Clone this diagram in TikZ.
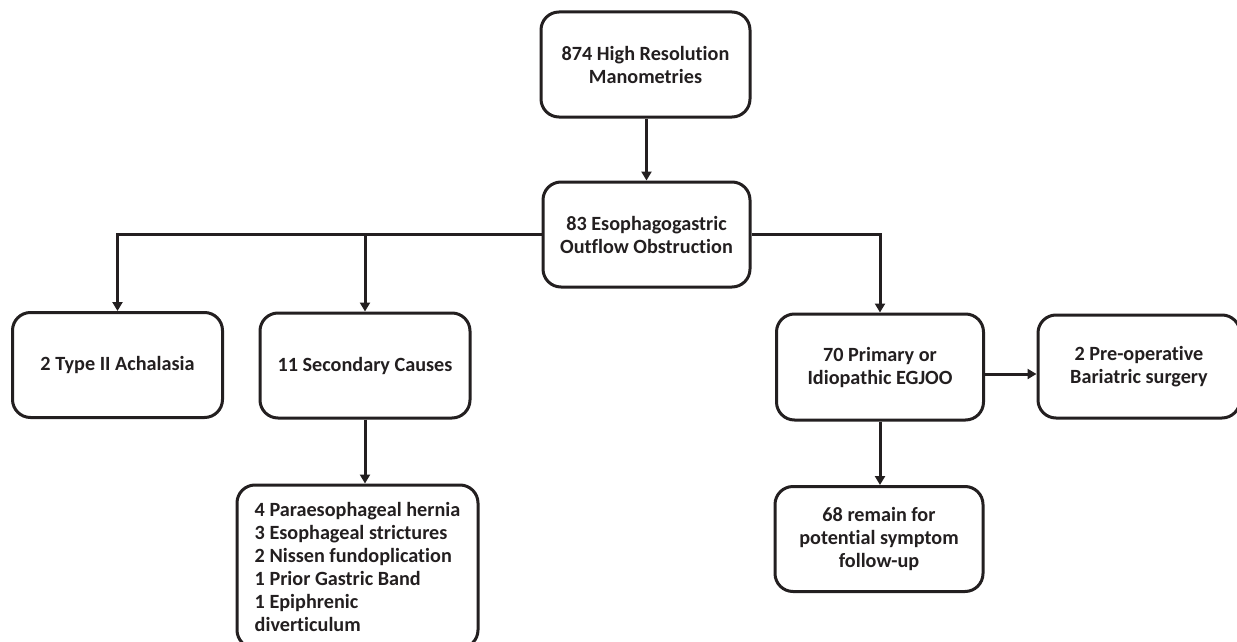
\documentclass[tikz,border=0pt]{standalone}
\usepackage{fontspec}
\setmainfont{Carlito}[RawFeature={-liga}]
\usetikzlibrary{arrows.meta}
\definecolor{ink}{HTML}{231F20}
\begin{document}
\begin{tikzpicture}[x=1pt,y=-1pt,
  box/.style={draw=ink, line width=3pt, rounded corners=18pt, align=center,
    text=ink, font=\fontsize{20.2}{23}\selectfont\bfseries, inner sep=0pt},
  arr/.style={draw=ink, line width=3pt, -{Triangle[length=9pt,width=10pt]}},
  ln/.style={draw=ink, line width=3pt}]
\clip (0,0) rectangle (1237,642);
\fill[white] (0,0) rectangle (1237,642);
\node[box, minimum width=209pt, minimum height=105pt] (top) at (645.5,64.5) {874 High Resolution\\Manometries};
\node[box, minimum width=207pt, minimum height=105pt] (ego) at (646.5,234.5) {83 Esophagogastric\\Outflow Obstruction};
\node[box, minimum width=210pt, minimum height=105pt] (typ) at (117.5,365) {2 Type II Achalasia};
\node[box, minimum width=210pt, minimum height=105pt] (sec) at (365,365.5) {11 Secondary Causes};
\node[box, align=left, minimum width=241pt, minimum height=163pt] (det) at (357.5,566.5) {4 Paraesophageal hernia\\3 Esophageal strictures\\2 Nissen fundoplication\\1 Prior Gastric Band\\1 Epiphrenic\\diverticulum};
\node[box, minimum width=207pt, minimum height=106pt] (pri) at (880,367) {70 Primary or\\Idiopathic EGJOO};
\node[box, minimum width=202pt, minimum height=103pt] (pre) at (1139,366.5) {2 Pre-operative\\Bariatric surgery};
\node[box, minimum width=208pt, minimum height=105pt] (rem) at (879,539) {68 remain for\\potential symptom\\follow-up};
\draw[arr] (top.south -| ego.north) -- (ego.north);
\draw[arr] (ego.west) -| (typ.north);
\draw[arr] (sec.north |- ego.west) -- (sec.north);
\draw[arr] (ego.east) -| (pri.north);
\draw[arr] (sec.south) -- (sec.south |- det.north);
\draw[arr] (pri.south) -- (pri.south |- rem.north);
\draw[arr] ([yshift=-7pt]pri.east) -- ([yshift=-7pt]pri.east -| pre.west);
\end{tikzpicture}
\end{document}
